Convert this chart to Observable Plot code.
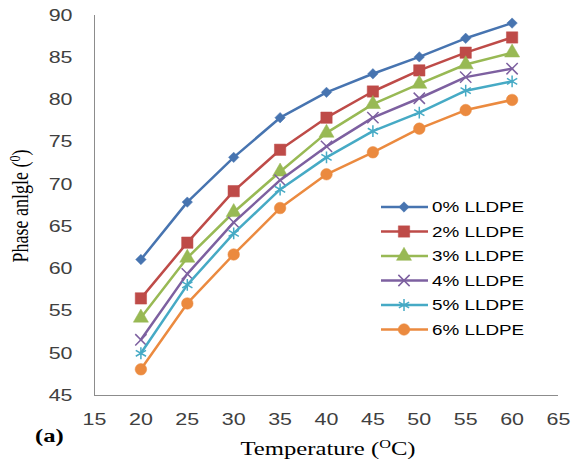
<!DOCTYPE html>
<html><head><meta charset="utf-8">
<script src="https://cdn.jsdelivr.net/npm/d3@7"></script>
<script src="https://cdn.jsdelivr.net/npm/@observablehq/plot@0.6"></script>
<style>body{margin:0;background:#fff}</style>
</head><body><div id="chart"></div>
<script>
const temps = [20,25,30,35,40,45,50,55,60];
const seriesNames = ["0% LLDPE","2% LLDPE","3% LLDPE","4% LLDPE","5% LLDPE","6% LLDPE"];
const s0 = [61.1,67.9,73.2,77.9,80.9,83.1,85.1,87.3,89.1];
const s2 = [56.5,63.1,69.2,74.1,77.9,81.0,83.5,85.6,87.4];
const s3 = [54.2,61.3,66.7,71.5,76.1,79.5,81.9,84.2,85.6];
const s4 = [51.6,59.4,65.5,70.5,74.5,77.9,80.2,82.7,83.7];
const s5 = [50.0,58.1,64.2,69.4,73.2,76.3,78.5,81.1,82.2];
const s6 = [48.1,55.9,61.7,67.2,71.2,73.8,76.6,78.8,80.0];
const xTicks = [15,20,25,30,35,40,45,50,55,60,65];
const yTicks = [45,50,55,60,65,70,75,80,85,90];

const colors = ["#4774B0","#BE4B48","#98B954","#7D60A0","#46AAC5","#EB8A3F"];
const symbols = ["diamond2","square","triangle","times","asterisk","circle"];
const filled = [true,true,true,false,false,true];
const radii = [4.7,6.4,5.6,5.2,5.6,5.8];
const allSeries = [s0,s2,s3,s4,s5,s6];
const SX = 1.3; // horizontal stretch of the original text

const marks = [];
allSeries.forEach((s,i)=>{
  const data = temps.map((t,j)=>({t, v:s[j]}));
  marks.push(Plot.line(data,{x:"t",y:"v",stroke:colors[i],strokeWidth:2.5}));
  marks.push(Plot.dot(data,{x:"t",y:"v",symbol:()=>symbols[i],r:radii[i],
    fill: filled[i]?colors[i]:"none", stroke: colors[i], strokeWidth: filled[i]?0.5:1.5}));
});

const plot = Plot.plot({
  width:582, height:461,
  marginLeft:94, marginRight:24, marginTop:15, marginBottom:66,
  style:{fontFamily:"'Liberation Sans', Arial, sans-serif", fontSize:"16.5px", color:"#404040", background:"#fff"},
  symbol:{type:"identity"},
  x:{domain:[15,65], ticks:xTicks, tickSize:0, tickPadding:18, label:null},
  y:{domain:[45,90], ticks:yTicks, tickSize:0, tickPadding:22, label:null},
  marks:[
    Plot.ruleX([15],{stroke:"#8c8c8c",strokeWidth:1}),
    Plot.ruleY([45],{stroke:"#8c8c8c",strokeWidth:1}),
    ...marks
  ]
});
document.getElementById("chart").appendChild(plot);

const svg = d3.select(plot);
function stretch(sel){
  sel.each(function(){
    const el = d3.select(this);
    const t = el.attr("transform")||"";
    const x = parseFloat(el.attr("x"));
    const xx = isFinite(x) ? x : 0;
    el.attr("transform", `${t} translate(${xx},0) scale(${SX},1) translate(${-xx},0)`);
  });
}
stretch(svg.selectAll('g[aria-label="x-axis tick label"] text, g[aria-label="y-axis tick label"] text'));

const serif = "'Liberation Serif', 'Times New Roman', serif";
// y axis title
const yt = svg.append("text")
  .attr("transform",`translate(28,206) scale(${SX},1) rotate(-90)`)
  .attr("text-anchor","middle")
  .style("font-family",serif)
  .style("font-size","18px").attr("fill","#000");
yt.append("tspan").text("Phase anlgle (");
yt.append("tspan").attr("dy","-6").style("font-size","12px").text("0");
yt.append("tspan").attr("dy","6").text(")");

// x axis title
const xt = svg.append("text")
  .attr("transform",`translate(328,455) scale(${SX},1)`)
  .attr("text-anchor","middle")
  .style("font-family",serif)
  .style("font-size","19px").attr("fill","#000");
xt.append("tspan").text("Temperature (");
xt.append("tspan").attr("dy","-7").style("font-size","12.5px").text("O");
xt.append("tspan").attr("dy","7").text("C)");

svg.append("text")
  .attr("transform",`translate(35,442) scale(${SX},1)`)
  .attr("text-anchor","start")
  .style("font-family",serif)
  .style("font-size","19px").style("font-weight","bold").attr("fill","#000")
  .text("(a)");

// legend
const symMap = {diamond2:d3.symbolDiamond2,square:d3.symbolSquare,triangle:d3.symbolTriangle,times:d3.symbolTimes,asterisk:d3.symbolAsterisk,circle:d3.symbolCircle};
const lg = svg.append("g");
seriesNames.forEach((name,i)=>{
  const y = 207 + i*24.5;
  lg.append("line").attr("x1",381).attr("x2",428).attr("y1",y).attr("y2",y)
    .attr("stroke",colors[i]).attr("stroke-width",2.5);
  const sym = d3.symbol().type(symMap[symbols[i]]).size(Math.PI*radii[i]*radii[i]);
  lg.append("path").attr("d",sym()).attr("transform",`translate(404,${y})`)
    .attr("fill",filled[i]?colors[i]:"none").attr("stroke",colors[i]).attr("stroke-width",filled[i]?0.5:1.5);
  lg.append("text")
    .attr("transform",`translate(432,${y}) scale(${SX},1)`)
    .attr("dy","0.36em").attr("text-anchor","start")
    .style("font-family","'Liberation Sans', Arial, sans-serif").style("font-size","14.5px").attr("fill","#000")
    .text(name);
});
</script>
</body></html>
